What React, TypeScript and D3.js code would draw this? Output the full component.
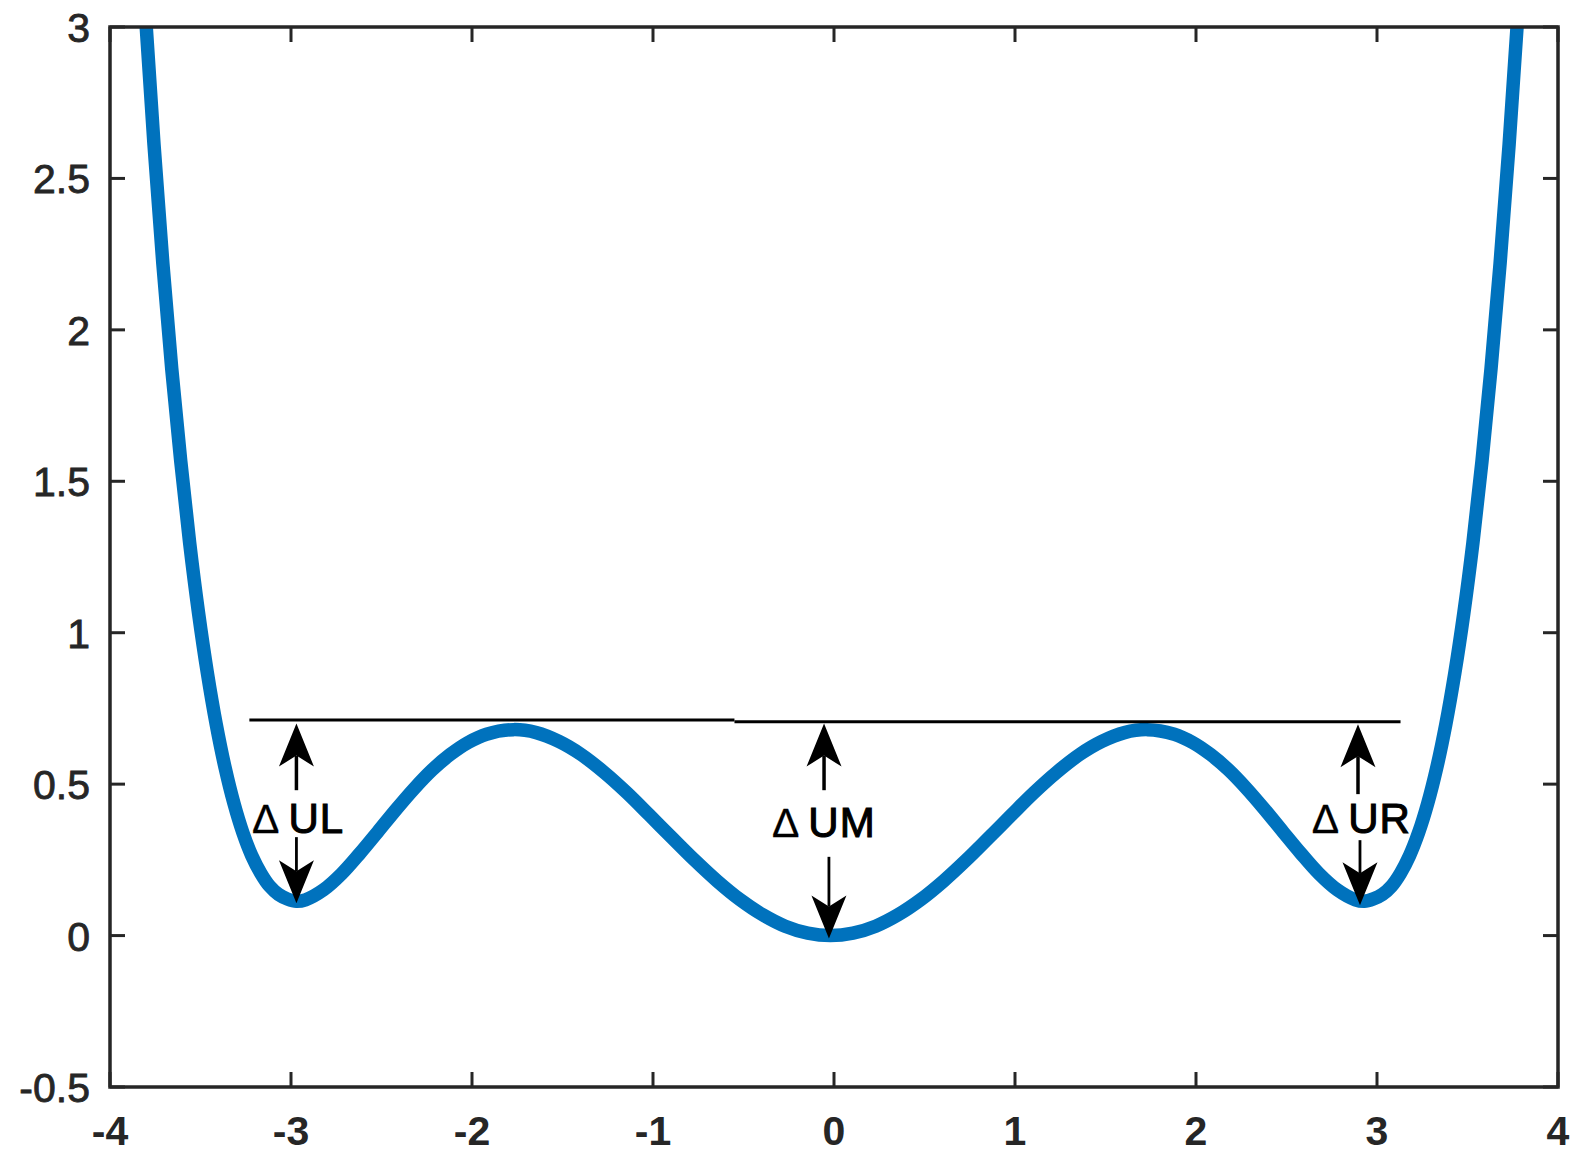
import React from "react";
import * as d3 from "d3";

// Potential curve
const curveX = [
  -3.855, -3.806, -3.757, -3.708, -3.659, -3.609, -3.56, -3.511, -3.462, -3.413, -3.364, -3.315, -3.266,
  -3.217, -3.167, -3.118, -3.069, -3.02, -2.97, -2.92, -2.82, -2.72, -2.62, -2.52, -2.42, -2.32,
  -2.22, -2.12, -2.02, -1.92, -1.77, -1.645, -1.52, -1.395, -1.27, -1.145, -1.02, -0.895,
  -0.77, -0.645, -0.52, -0.395, -0.27, -0.145, -0.02,
  0.105, 0.23, 0.355, 0.48, 0.605, 0.73, 0.855, 0.98, 1.105, 1.23, 1.355, 1.48, 1.605, 1.73,
  1.88, 1.98, 2.08, 2.18, 2.28, 2.38, 2.48, 2.58, 2.68, 2.78, 2.88, 2.93, 2.98, 3.03, 3.08,
  3.13, 3.18, 3.23, 3.28, 3.33, 3.38, 3.43, 3.48, 3.53, 3.58, 3.63, 3.68, 3.73, 3.78, 3.83,
];
const curveU = [
  3.55, 3.056, 2.613, 2.219, 1.872, 1.566, 1.297, 1.066, 0.867, 0.697, 0.554, 0.436, 0.34,
  0.264, 0.206, 0.163, 0.136, 0.121, 0.113, 0.118, 0.151, 0.204, 0.271, 0.343, 0.416, 0.485,
  0.547, 0.598, 0.638, 0.665, 0.68, 0.67, 0.641, 0.597, 0.539, 0.472, 0.398, 0.323,
  0.249, 0.18, 0.119, 0.069, 0.031, 0.008, 0,
  0.008, 0.031, 0.069, 0.119, 0.18, 0.249, 0.323, 0.398, 0.472, 0.539, 0.597, 0.641, 0.67, 0.68,
  0.665, 0.638, 0.598, 0.547, 0.485, 0.416, 0.343, 0.271, 0.204, 0.151, 0.118, 0.113, 0.121, 0.136, 0.163,
  0.206, 0.264, 0.34, 0.436, 0.554, 0.697, 0.867, 1.066, 1.297, 1.566, 1.872, 2.219, 2.613, 3.056, 3.55,
];

// Reference (barrier) line
const refLineX = [-3.23, -0.55, -0.55, 3.13];
const refLineU = [0.712, 0.712, 0.706, 0.706];

// Annotations
const annLabels = ["UL", "UM", "UR"];
const annTextX = [-3.215, -0.343, 2.64];
const annTextU = [0.34, 0.325, 0.338];
const upArrowX = [-2.97, -0.055, 2.895];
const upTipU = [0.70, 0.70, 0.698];
const upTailU = [0.48, 0.48, 0.467];
const downArrowX = [-2.97, -0.028, 2.906];
const downTailU = [0.325, 0.26, 0.315];
const downTipU = [0.107, -0.01, 0.10];

const xTicks = [-4, -3, -2, -1, 0, 1, 2, 3, 4];
const yTicks = [-0.5, 0, 0.5, 1, 1.5, 2, 2.5, 3];
const yTickLabels = ["-0.5", "0", "0.5", "1", "1.5", "2", "2.5", "3"];

const W = 1582;
const H = 1170;
const L = 110, R = 1558, T = 27, B = 1087;

export default function App() {
  const x = d3.scaleLinear().domain([-4, 4]).range([L, R]);
  const y = d3.scaleLinear().domain([-0.5, 3]).range([B, T]);
  const axisColor = "#262626";
  const font = "'Liberation Sans', Arial, Helvetica, sans-serif";

  const pts = curveX.map((v, i) => [v, curveU[i]] as [number, number]);
  const line = d3
    .line<[number, number]>()
    .x((d) => x(d[0]))
    .y((d) => y(d[1]))
    .curve(d3.curveCatmullRom.alpha(0.5));

  const refSegs = [0, 2].map((i) => ({
    x1: x(refLineX[i]), y1: y(refLineU[i]), x2: x(refLineX[i + 1]), y2: y(refLineU[i + 1]),
  }));

  const headLen = 43, halfW = 17.5, notch = 11;
  const tick = 15;

  return (
    <svg width={W} height={H} style={{ position: "absolute", left: 0, top: 0, background: "#fff" }}>
      <defs>
        <clipPath id="plotClip">
          <rect x={L} y={T} width={R - L} height={B - T} />
        </clipPath>
      </defs>
      <rect x={0} y={0} width={W} height={H} fill="#fff" />

      {/* curve */}
      <path d={line(pts) || ""} fill="none" stroke="#0072BD" strokeWidth={13.5}
        strokeLinejoin="round" clipPath="url(#plotClip)" />

      {/* barrier line */}
      {refSegs.map((s, i) => (
        <line key={i} x1={s.x1} y1={s.y1} x2={s.x2} y2={s.y2} stroke="#000" strokeWidth={3} />
      ))}

      {/* arrows */}
      {upArrowX.map((ax, i) => {
        const cx = x(ax);
        const tip = y(upTipU[i]);
        const tail = y(upTailU[i]);
        return (
          <g key={"u" + i}>
            <line x1={cx} y1={tip + headLen - notch} x2={cx} y2={tail} stroke="#000" strokeWidth={3.5} />
            <path d={`M${cx},${tip} L${cx - halfW},${tip + headLen} L${cx},${tip + headLen - notch} L${cx + halfW},${tip + headLen} Z`} fill="#000" />
          </g>
        );
      })}
      {downArrowX.map((ax, i) => {
        const cx = x(ax);
        const tip = y(downTipU[i]);
        const tail = y(downTailU[i]);
        return (
          <g key={"d" + i}>
            <line x1={cx} y1={tail} x2={cx} y2={tip - headLen + notch} stroke="#000" strokeWidth={2.8} />
            <path d={`M${cx},${tip} L${cx - halfW},${tip - headLen} L${cx},${tip - headLen + notch} L${cx + halfW},${tip - headLen} Z`} fill="#000" />
          </g>
        );
      })}

      {/* annotation labels */}
      {annLabels.map((lab, i) => (
        <text key={lab} x={x(annTextX[i])} y={y(annTextU[i])} fontFamily={font} fontSize={42}
          fill="#000" stroke="#000" strokeWidth={1.1}>
          <tspan fontSize={41} strokeWidth={0.3}>Δ</tspan>
          <tspan dx={9} letterSpacing={1}>{lab}</tspan>
        </text>
      ))}

      {/* axes box */}
      <rect x={L} y={T} width={R - L} height={B - T} fill="none" stroke={axisColor} strokeWidth={3.5} />
      {xTicks.map((t) => (
        <g key={"xt" + t}>
          <line x1={x(t)} x2={x(t)} y1={B} y2={B - tick} stroke={axisColor} strokeWidth={3} />
          <line x1={x(t)} x2={x(t)} y1={T} y2={T + tick} stroke={axisColor} strokeWidth={3} />
          <text x={x(t)} y={B + 58} textAnchor="middle" fontFamily={font} fontSize={41}
            fontWeight="bold" fill={axisColor}>{String(t)}</text>
        </g>
      ))}
      {yTicks.map((t, i) => (
        <g key={"yt" + t}>
          <line x1={L} x2={L + tick} y1={y(t)} y2={y(t)} stroke={axisColor} strokeWidth={3} />
          <line x1={R} x2={R - tick} y1={y(t)} y2={y(t)} stroke={axisColor} strokeWidth={3} />
          <text x={L - 20} y={y(t) + 15} textAnchor="end" fontFamily={font} fontSize={41}
            fill={axisColor} stroke={axisColor} strokeWidth={0.8}>{yTickLabels[i]}</text>
        </g>
      ))}
    </svg>
  );
}
